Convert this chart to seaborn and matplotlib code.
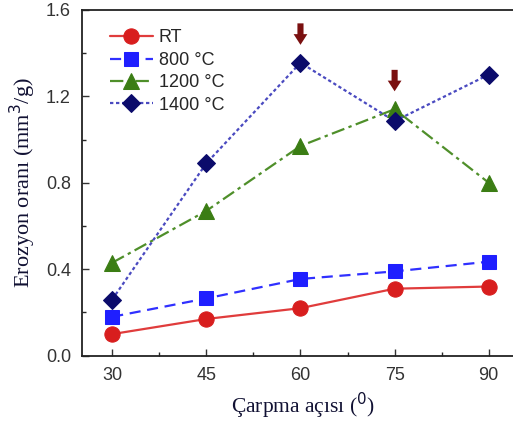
import numpy as np
import pandas as pd
import matplotlib.pyplot as plt
import seaborn as sns

# values
angles = [30, 45, 60, 75, 90]
rt = [0.10, 0.17, 0.22, 0.31, 0.32]
t800 = [0.18, 0.265, 0.355, 0.39, 0.435]
t1200 = [0.43, 0.67, 0.97, 1.14, 0.80]
t1400 = [0.26, 0.89, 1.355, 1.085, 1.30]
series_names = ['RT', '800 °C', '1200 °C', '1400 °C']
arrow_x = [60, 75]

df = pd.DataFrame({'angle': angles * 4,
                   'rate': rt + t800 + t1200 + t1400,
                   'series': np.repeat(series_names, len(angles))})

sns.set_style('ticks')
plt.rcParams['font.family'] = ['Liberation Sans', 'DejaVu Sans']

fig = plt.figure(figsize=(5.13, 4.25), dpi=100)
ax = fig.add_axes([0.160, 0.163, 0.86, 0.814])

colors = ['#d81e1e', '#1f1fff', '#3b7d14', '#0b0b6b']
line_colors = ['#e03c3c', '#3030ff', '#4f8f2a', '#4a4ac0']
markers = ['o', 's', '^', 'D']
styles = ['-', (0, (5, 3)), (0, (6, 2, 1.5, 2)), (0, (1.5, 1.2))]
sizes = [11, 10, 11, 9]

for name, c, lc, m, ls, ms in zip(series_names, colors, line_colors, markers, styles, sizes):
    sub = df[df['series'] == name]
    sns.lineplot(data=sub, x='angle', y='rate', ax=ax, color=lc, linestyle=ls,
                 linewidth=1.6, marker=m, markersize=ms, markerfacecolor=c,
                 markeredgecolor=c, label=name)

# arrows above the peaks
for xa in arrow_x:
    yv = t1400[angles.index(xa)] if xa == 60 else t1200[angles.index(xa)]
    ax.annotate('', xy=(xa, yv + 0.07), xytext=(xa, yv + 0.195),
                arrowprops=dict(arrowstyle='simple,head_width=0.9,head_length=0.7,tail_width=0.4',
                                mutation_scale=11, color='#7a1010', lw=0))

ax.set_xlim(25.2, 95.5)
ax.set_ylim(0, 1.6)
ax.set_xticks(angles)
ax.set_xticks([37.5, 52.5, 67.5, 82.5], minor=True)
ax.set_yticks([0, 0.4, 0.8, 1.2, 1.6])
ax.set_yticks([0.2, 0.6, 1.0, 1.4], minor=True)
ax.set_yticklabels(['0.0', '0.4', '0.8', '1.2', '1.6'])
ax.tick_params(which='major', direction='in', length=5, width=1, labelsize=13,
               colors='#333333', pad=8)
ax.tick_params(which='minor', direction='in', length=3, width=1)
for s in ax.spines.values():
    s.set_linewidth(1.3)
    s.set_color('#222222')

ax.set_xlabel('Çarpma açısı ($^0$)', family=['Liberation Serif', 'DejaVu Serif'],
              fontsize=15.5, color='#111133', labelpad=5)
ax.set_ylabel('Erozyon oranı (mm$^3$/g)', family=['Liberation Serif', 'DejaVu Serif'],
              fontsize=16, color='#111133', labelpad=6)

leg = ax.legend(loc='upper left', bbox_to_anchor=(0.03, 0.985), frameon=False,
                fontsize=13, handlelength=2.4, handletextpad=0.3, labelspacing=0.3,
                borderaxespad=0.4)

fig.savefig('out.png', dpi=100)
